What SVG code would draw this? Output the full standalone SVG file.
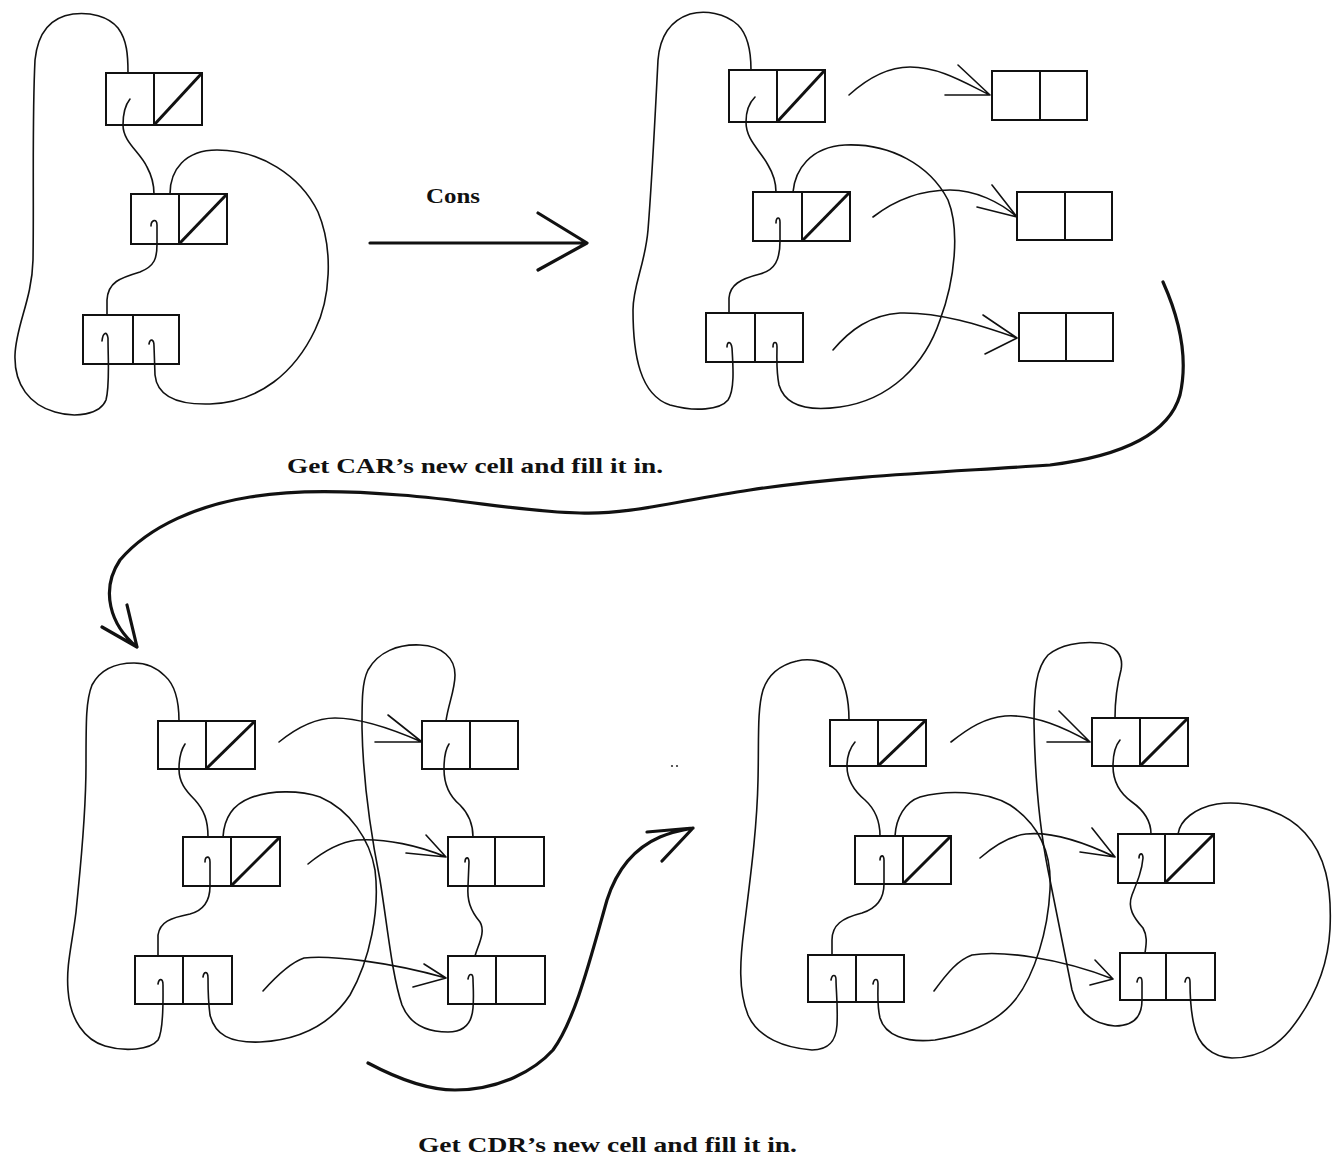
<svg xmlns="http://www.w3.org/2000/svg" width="1334" height="1158" viewBox="0 0 1334 1158">
<defs>
<style>
.cell rect{fill:none;stroke:#111;stroke-width:2}
.cell line{stroke:#111;stroke-width:2}
.cell .nil{stroke-width:3}
.w{fill:none;stroke:#111;stroke-width:1.6;stroke-linecap:round;stroke-linejoin:round}
.b{fill:none;stroke:#111;stroke-width:3.2;stroke-linecap:round;stroke-linejoin:round}
.lbl{font-family:"Liberation Serif","DejaVu Serif",serif;font-weight:bold;fill:#111}
</style>
</defs>
<rect width="1334" height="1158" fill="#fff"/>

<!-- Panel 1 cells -->
<g id="p1-a" class="cell"><rect x="106" y="73" width="96" height="52"/><line x1="154" y1="73" x2="154" y2="125"/><line class="nil" x1="154" y1="125" x2="202" y2="73"/></g>
<g id="p1-b" class="cell"><rect x="131" y="194" width="96" height="50"/><line x1="179" y1="194" x2="179" y2="244"/><line class="nil" x1="179" y1="244" x2="227" y2="194"/></g>
<g id="p1-c" class="cell"><rect x="83" y="315" width="96" height="49"/><line x1="133" y1="315" x2="133" y2="364"/></g>

<!-- Panel 2 cells -->
<g id="p2-a" class="cell"><rect x="729" y="70" width="96" height="52"/><line x1="777" y1="70" x2="777" y2="122"/><line class="nil" x1="777" y1="122" x2="825" y2="70"/></g>
<g id="p2-b" class="cell"><rect x="753" y="192" width="97" height="49"/><line x1="802" y1="192" x2="802" y2="241"/><line class="nil" x1="802" y1="241" x2="850" y2="192"/></g>
<g id="p2-c" class="cell"><rect x="706" y="313" width="97" height="49"/><line x1="755" y1="313" x2="755" y2="362"/></g>
<g id="p2-n1" class="cell"><rect x="992" y="71" width="95" height="49"/><line x1="1040" y1="71" x2="1040" y2="120"/></g>
<g id="p2-n2" class="cell"><rect x="1017" y="192" width="95" height="48"/><line x1="1065" y1="192" x2="1065" y2="240"/></g>
<g id="p2-n3" class="cell"><rect x="1019" y="313" width="94" height="48"/><line x1="1066" y1="313" x2="1066" y2="361"/></g>

<!-- Panel 3 cells -->
<g id="p3-a" class="cell"><rect x="158" y="721" width="97" height="48"/><line x1="206" y1="721" x2="206" y2="769"/><line class="nil" x1="206" y1="769" x2="255" y2="721"/></g>
<g id="p3-b" class="cell"><rect x="183" y="837" width="97" height="49"/><line x1="231" y1="837" x2="231" y2="886"/><line class="nil" x1="231" y1="886" x2="280" y2="837"/></g>
<g id="p3-c" class="cell"><rect x="135" y="956" width="97" height="48"/><line x1="183" y1="956" x2="183" y2="1004"/></g>
<g id="p3-n1" class="cell"><rect x="422" y="721" width="96" height="48"/><line x1="470" y1="721" x2="470" y2="769"/></g>
<g id="p3-n2" class="cell"><rect x="448" y="837" width="96" height="49"/><line x1="495" y1="837" x2="495" y2="886"/></g>
<g id="p3-n3" class="cell"><rect x="448" y="956" width="97" height="48"/><line x1="496" y1="956" x2="496" y2="1004"/></g>

<!-- Panel 4 cells -->
<g id="p4-a" class="cell"><rect x="830" y="720" width="96" height="46"/><line x1="878" y1="720" x2="878" y2="766"/><line class="nil" x1="878" y1="766" x2="926" y2="720"/></g>
<g id="p4-b" class="cell"><rect x="855" y="836" width="96" height="48"/><line x1="903" y1="836" x2="903" y2="884"/><line class="nil" x1="903" y1="884" x2="951" y2="836"/></g>
<g id="p4-c" class="cell"><rect x="808" y="955" width="96" height="47"/><line x1="856" y1="955" x2="856" y2="1002"/></g>
<g id="p4-n1" class="cell"><rect x="1092" y="718" width="96" height="48"/><line x1="1140" y1="718" x2="1140" y2="766"/><line class="nil" x1="1140" y1="766" x2="1188" y2="718"/></g>
<g id="p4-n2" class="cell"><rect x="1118" y="834" width="96" height="49"/><line x1="1165" y1="834" x2="1165" y2="883"/><line class="nil" x1="1165" y1="883" x2="1214" y2="834"/></g>
<g id="p4-n3" class="cell"><rect x="1120" y="953" width="95" height="47"/><line x1="1166" y1="953" x2="1166" y2="1000"/></g>

<g id="connectors">
<!-- Panel 1 -->
<path class="w" d="M128,73 C128,55 127,40 118,28 C108,16 90,12 73,14 C52,17 38,30 35,60 C32,120 34,200 33,260 C32,300 16,325 15,355 C14,385 30,405 55,412 C75,418 100,415 106,400 C110,385 108,360 108,338 C107,331 103,332 102,341"/>
<path class="w" d="M130,99 C126,104 123,110 123,125 C123,142 140,152 147,167 C153,178 154,186 154,194"/>
<path class="w" d="M151,226 C151,220 157,218 157,225 L157,244 C157,258 155,266 140,272 C120,278 108,282 107,300 L107,315"/>
<path class="w" d="M170,194 C170,170 185,150 217,150 C260,150 300,175 318,212 C334,250 330,300 315,330 C295,372 260,402 210,404 C175,405 157,395 155,375 L154,346 C154,339 150,338 149,344"/>

<!-- Panel 2 -->
<path class="w" d="M751,70 C751,50 748,35 738,25 C725,13 705,10 690,14 C672,20 660,35 658,60 C655,120 652,180 648,230 C645,265 633,285 633,310 C633,355 640,395 670,405 C695,412 720,410 728,400 C735,390 733,365 732,348 C731,341 727,341 727,347"/>
<path class="w" d="M755,97 C750,102 746,110 746,122 C746,140 760,150 768,165 C774,175 776,183 776,192"/>
<path class="w" d="M776,223 C776,217 780,216 780,222 L780,241 C780,260 775,270 760,274 C740,279 730,285 729,298 L729,313"/>
<path class="w" d="M793,192 C795,170 810,147 845,145 C890,143 930,165 948,200 C960,230 955,280 940,320 C925,365 890,400 840,407 C805,412 785,405 779,385 C776,370 777,355 777,347 C777,341 773,341 773,347"/>
<path class="w" d="M849,95 C870,76 890,67 910,67 C940,67 965,83 990,95 M958,65 L990,95 L945,95"/>
<path class="w" d="M873,217 C895,200 920,190 950,190 C975,190 1000,202 1017,217 M992,185 L1017,217 L977,207"/>
<path class="w" d="M833,350 C850,330 870,315 900,313 C940,312 980,325 1017,338 M983,315 L1017,338 L985,354"/>

<!-- Panel 3 -->
<path class="w" d="M179,721 C179,700 175,685 165,676 C155,666 145,663 134,663 C115,663 100,670 92,685 C86,700 86,720 86,765 C86,820 80,870 76,912 C72,945 66,965 68,990 C70,1020 85,1040 105,1046 C125,1052 150,1050 158,1040 C164,1030 163,1000 163,985 C163,978 159,978 158,984"/>
<path class="w" d="M185,744 C181,750 179,758 179,769 C179,782 185,790 195,800 C204,810 208,820 208,837"/>
<path class="w" d="M205,862 C205,856 210,855 210,862 L210,886 C210,900 205,910 190,914 C170,918 160,922 158,935 L158,956"/>
<path class="w" d="M223,837 C224,820 232,805 250,798 C270,790 300,790 320,797 C350,810 370,840 375,870 C380,910 370,960 350,995 C330,1025 300,1040 260,1042 C230,1043 215,1035 210,1015 C208,1000 208,990 208,978 C208,971 204,971 203,977"/>
<path class="w" d="M446,721 C448,705 455,690 455,675 C455,658 442,646 420,645 C398,644 378,652 368,670 C362,682 362,700 362,728 C363,780 370,830 380,880 C388,930 392,975 402,1005 C410,1025 428,1032 448,1032 C465,1032 472,1022 473,1008 C474,995 473,985 473,979 C473,973 469,973 468,979"/>
<path class="w" d="M449,744 C445,750 444,758 444,769 C444,782 448,795 460,805 C470,815 473,825 473,837"/>
<path class="w" d="M465,862 C465,857 469,856 469,862 L468,886 C467,900 470,910 480,922 C486,932 478,945 475,956"/>
<path class="w" d="M279,742 C300,725 318,718 335,718 C360,718 390,728 422,742 M388,715 L422,742 L375,742"/>
<path class="w" d="M308,864 C325,850 340,842 357,840 C385,838 420,846 446,857 M426,835 L446,857 L406,853"/>
<path class="w" d="M263,991 C280,972 292,962 304,958 C330,955 390,962 446,978 M424,964 L446,978 L413,987"/>

<!-- Panel 4 -->
<path class="w" d="M849,720 C849,700 845,680 836,670 C825,660 808,658 797,661 C780,665 768,675 763,690 C757,710 759,740 758,780 C757,830 750,880 744,929 C740,960 738,990 748,1015 C758,1038 785,1048 812,1050 C830,1050 836,1040 837,1025 C838,1005 836,990 836,980 C836,974 832,974 831,980"/>
<path class="w" d="M855,742 C850,748 847,756 847,766 C847,780 853,790 865,800 C876,810 880,822 880,836"/>
<path class="w" d="M880,860 C880,855 884,854 884,860 L884,884 C884,898 878,908 862,913 C842,918 832,925 832,940 L832,955"/>
<path class="w" d="M895,836 C896,818 905,802 920,797 C945,790 985,790 1010,805 C1040,825 1052,855 1050,890 C1048,930 1035,975 1015,1000 C995,1025 965,1035 935,1040 C905,1043 885,1035 880,1018 C877,1005 878,995 878,984 C878,978 874,978 873,984"/>
<path class="w" d="M1115,718 C1115,700 1117,685 1121,670 C1124,655 1115,645 1100,643 C1080,641 1060,645 1048,655 C1036,668 1034,690 1034,723 C1035,780 1040,830 1048,870 C1058,920 1066,960 1072,990 C1078,1012 1092,1024 1115,1026 C1135,1026 1142,1015 1142,1000 L1142,982 C1142,976 1138,976 1137,982"/>
<path class="w" d="M1120,740 C1115,746 1113,755 1113,766 C1113,780 1118,792 1132,802 C1146,812 1151,822 1151,834"/>
<path class="w" d="M1139,858 C1139,853 1143,852 1143,858 C1142,870 1138,880 1132,895 C1127,908 1134,918 1143,928 C1148,937 1146,945 1145,953"/>
<path class="w" d="M1178,834 C1180,820 1195,808 1217,804 C1245,800 1285,810 1305,833 C1325,855 1332,885 1330,929 C1328,970 1310,1005 1290,1030 C1275,1048 1255,1058 1232,1058 C1212,1057 1198,1045 1194,1025 C1190,1008 1190,995 1190,982 C1190,976 1186,976 1185,982"/>
<path class="w" d="M951,742 C970,727 985,718 1005,716 C1035,714 1065,728 1090,742 M1059,711 L1090,742 L1047,742"/>
<path class="w" d="M980,858 C995,845 1010,836 1026,834 C1055,831 1090,845 1115,857 M1092,828 L1115,857 L1080,852"/>
<path class="w" d="M934,991 C948,972 958,960 972,955 C1000,950 1060,958 1113,979 M1095,960 L1113,979 L1090,985"/>

<!-- Transition arrows -->
<path class="b" d="M370,243 L585,243 M538,213 L587,243 L538,270"/>
<path class="b" d="M1163,282 C1180,320 1188,360 1180,395 C1170,430 1130,455 1050,465 C950,472 850,475 750,490 C680,500 630,515 580,513 C520,512 470,500 400,495 C340,490 290,490 250,497 C200,505 150,525 120,560 C100,590 110,625 137,647 M102,627 L137,647 L127,605"/>
<path class="b" d="M368,1063 C400,1080 430,1090 455,1090 C500,1090 535,1070 553,1050 C575,1020 590,960 607,900 C615,875 630,850 660,837 C672,832 682,830 693,828 M647,832 L693,828 L662,861"/>
</g>

<circle cx="672" cy="766" r="1.1" fill="#333"/>
<circle cx="677" cy="766" r="1.1" fill="#333"/>

<g id="labels">
<text class="lbl" x="453" y="203" font-size="22" text-anchor="middle" textLength="54" lengthAdjust="spacingAndGlyphs">Cons</text>
<text class="lbl" x="287" y="473" font-size="21" textLength="376" lengthAdjust="spacingAndGlyphs">Get CAR’s new cell and fill it in.</text>
<text class="lbl" x="418" y="1152" font-size="21" textLength="379" lengthAdjust="spacingAndGlyphs">Get CDR’s new cell and fill it in.</text>
</g>
</svg>
